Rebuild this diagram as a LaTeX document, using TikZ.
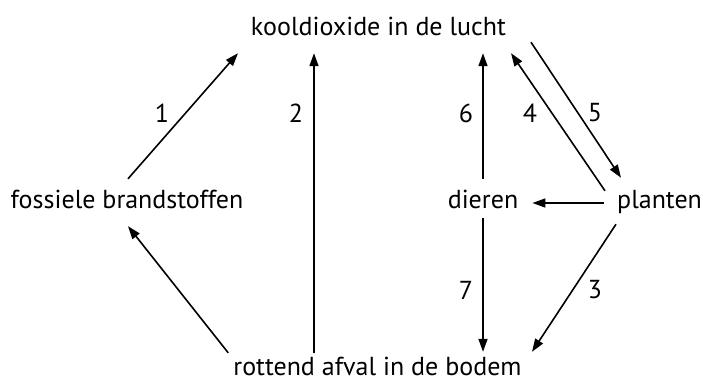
\documentclass[tikz,border=0pt]{standalone}
\usepackage{fontspec}
\setmainfont{PT Sans}
\usepackage{tikz}
\usetikzlibrary{arrows.meta}
\usetikzlibrary{calc}
\tikzset{>={Triangle[length=13pt,width=9pt]}}
\tikzset{
	term/.style={anchor=base, inner sep=0pt, text height=18pt, text depth=5pt, font=\fontsize{26}{30}\selectfont},
	num/.style={inner sep=0pt, font=\fontsize{26}{30}\selectfont},
	flow/.style={->, line width=1.6pt}
}

\begin{document}
\begin{tikzpicture}[x=1pt,y=-1pt]
				\useasboundingbox (0,0) rectangle (704,383);
				
				\node[term] (lucht) at (378.5,35) {kooldioxide in de lucht};
				\node[term] (fossiel) at (127,208) {fossiele brandstoffen};
				\node[term] (dieren) at (483,208) {dieren};
				\node[term, anchor=base west] (planten) at (617,208) {planten};
				\node[term] (bodem) at (377.5,375) {rottend afval in de bodem};
				
				% pijlen naar de lucht
				\draw[flow] ($(fossiel.north)+(1,-11)$) -- ($(lucht.south)+(-140.5,13)$);
				\draw[flow] ($(bodem.north)+(-63.5,-4)$) -- ($(lucht.south)+(-64.5,13)$);
				\draw[flow] ($(dieren.north)+(0,-11)$) -- ($(lucht.south)+(104.5,13)$);
				\draw[flow] ($(planten.north west)+(-12,1)$) -- ($(lucht.south)+(132.5,13)$);
				\draw[flow] ($(lucht.south)+(152.5,2)$) -- ($(planten.north west)+(4,-12)$);
				
				\draw[flow] ($(planten.west)+(-13,1.5)$) -- ($(dieren.east)+(14,1.5)$);
				
				% pijlen naar de bodem
				\draw[flow] ($(dieren.south)+(0,5)$) -- ($(bodem.north)+(105.5,-5)$);
				\draw[flow] ($(planten.south west)+(-1,11)$) -- ($(bodem.north)+(154.5,-5)$);
				\draw[flow] ($(bodem.north west)+(-5,-4)$) -- ($(fossiel.south)+(1,13)$);
				
				\node[num] (n1) at (162,113) {1};
				\node[num] (n2) at (296,113) {2};
				\node[num] (n6) at (466,113) {6};
				\node[num] (n4) at (530,113) {4};
				\node[num] (n5) at (595,113) {5};
				\node[num] (n7) at (466,290) {7};
				\node[num] (n3) at (595,290) {3};
			\end{tikzpicture}
\end{document}
